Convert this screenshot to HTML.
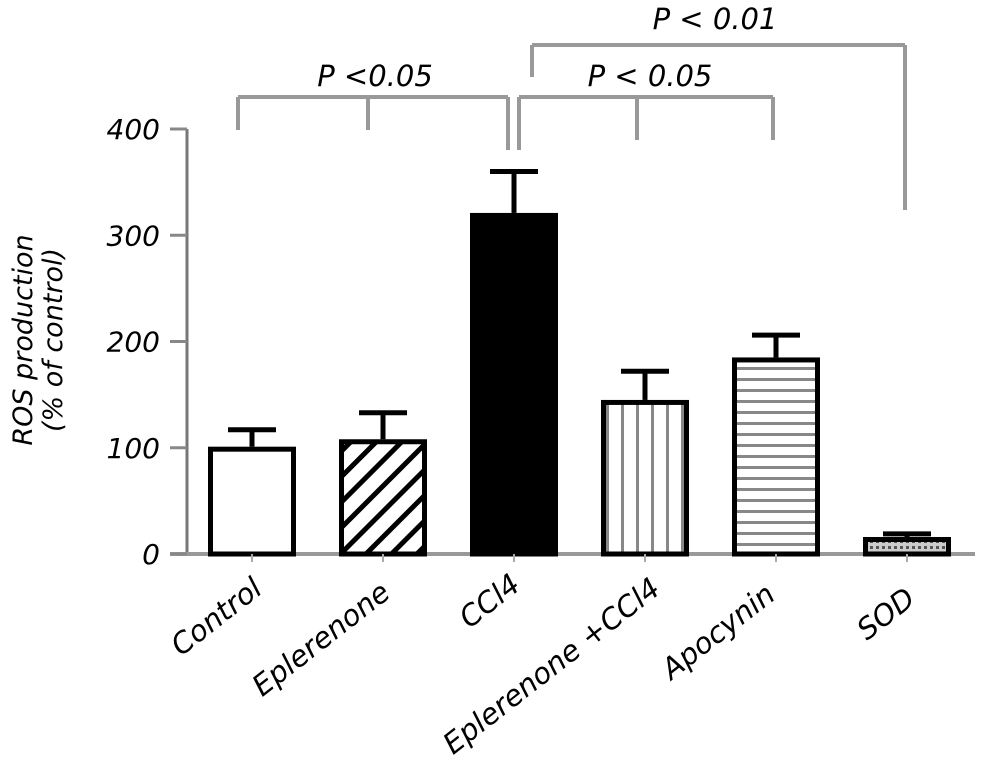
<!DOCTYPE html>
<html><head><meta charset="utf-8"><style>
html,body{margin:0;padding:0;background:#fff;}
svg{display:block;}
text{font-family:"DejaVu Sans","Liberation Sans",sans-serif;font-style:italic;fill:#000;}
</style></head><body>
<svg id="chart" width="982" height="766" viewBox="0 0 982 766" xmlns="http://www.w3.org/2000/svg">
<g id="axes"></g><g id="bars"></g><g id="sig"></g>
</svg>
<script>
const categories = ["Control","Eplerenone","CCl4","Eplerenone +CCl4","Apocynin","SOD"];
const values = [101,108,321,145,185,16];
const errors = [16,25,39,27,21,3];
const yTicks = [0,100,200,300,400];
const fills = ["none","diag","solid","vert","horiz","dots"];

const NS="http://www.w3.org/2000/svg";
const y0=554, pxPerUnit=1.0625;
function yScale(v){return y0 - v*pxPerUnit;}
const x0=252, step=131, barW=88;
function xScale(i){return x0 + i*step;}
function mk(tag,attrs,parent){const e=document.createElementNS(NS,tag);for(const k in attrs)e.setAttribute(k,attrs[k]);parent.appendChild(e);return e;}
const svg=document.getElementById('chart');
const defs=mk('defs',{},svg);
let p=mk('pattern',{id:'diag',width:18,height:18,patternUnits:'userSpaceOnUse',patternTransform:'rotate(45)'},defs);
mk('rect',{x:0,y:0,width:18,height:18,fill:'#fff'},p);mk('rect',{x:0,y:0,width:5,height:18,fill:'#000'},p);
p=mk('pattern',{id:'vert',width:15,height:10,patternUnits:'userSpaceOnUse'},defs);
mk('rect',{x:0,y:0,width:15,height:10,fill:'#fff'},p);mk('rect',{x:6,y:0,width:3,height:10,fill:'#888'},p);
p=mk('pattern',{id:'horiz',width:10,height:11,patternUnits:'userSpaceOnUse'},defs);
mk('rect',{x:0,y:0,width:10,height:11,fill:'#fff'},p);mk('rect',{x:0,y:4,width:10,height:3,fill:'#888'},p);
p=mk('pattern',{id:'dots',width:6,height:6,patternUnits:'userSpaceOnUse'},defs);
mk('rect',{x:0,y:0,width:6,height:6,fill:'#ccc'},p);mk('rect',{x:0,y:0,width:3,height:3,fill:'#555'},p);

const axes=document.getElementById('axes');
let e=mk('line',{x1:187,y1:yScale(400),x2:187,y2:y0,stroke:'#777','stroke-width':3},axes);

e=mk('line',{x1:170,y1:y0,x2:975,y2:y0,stroke:'#999','stroke-width':4},axes);

yTicks.forEach(t=>{
  const l=mk('line',{x1:170,y1:yScale(t),x2:187,y2:yScale(t),stroke:'#888','stroke-width':3},axes);
  
  const tx=mk('text',{x:160,y:yScale(t)+10,'text-anchor':'end','font-size':28},axes);
  tx.textContent=t;
  
});
e=mk('text',{transform:'translate(32,340) rotate(-90)','text-anchor':'middle','font-size':27},axes);
e.textContent='ROS production';

e=mk('text',{transform:'translate(62,340) rotate(-90)','text-anchor':'middle','font-size':27},axes);
e.textContent='(% of control)';


const labelEnds=[[264,592],[392,596],[522,588],[662,592],[777,598],[917,602]];
const bars=document.getElementById('bars');
categories.forEach((c,i)=>{
  const cx=xScale(i), top=yScale(values[i]);
  const f=fills[i]==='none'?'#fff':fills[i]==='solid'?'#000':'url(#'+fills[i]+')';
  const r=mk('rect',{x:cx-barW/2+2.5,y:top+2.5,width:barW-5,height:y0-top-2.5,fill:f,stroke:'#000','stroke-width':5},bars);
  
  
  const et=yScale(values[i]+errors[i]);
  const eb=mk('line',{x1:cx,y1:top,x2:cx,y2:et,stroke:'#000','stroke-width':5},bars);
  
  const ec=mk('line',{x1:cx-24,y1:et,x2:cx+24,y2:et,stroke:'#000','stroke-width':5},bars);
  
  const tk=mk('line',{x1:cx,y1:y0,x2:cx,y2:y0+8,stroke:'#aaa','stroke-width':2},bars);
  
  const [lx,ly]=labelEnds[i];
  const t=mk('text',{transform:`translate(${lx},${ly}) rotate(-38)`,'text-anchor':'end','font-size':29},bars);
  t.textContent=c;
  
});

const sig=document.getElementById('sig');
function bracket(name,yTop,drops,label,lx,ly){
  const g=mk('g',{},sig);
  
  mk('line',{x1:drops[0][0],y1:yTop,x2:drops[drops.length-1][0],y2:yTop,stroke:'#999','stroke-width':4},g);
  drops.forEach(d=>mk('line',{x1:d[0],y1:yTop,x2:d[0],y2:d[1],stroke:'#999','stroke-width':4},g));
  const t=mk('text',{x:lx,y:ly,'text-anchor':'middle','font-size':29},g);
  t.textContent=label;
}
bracket('significance-bracket-1',97,[[238,130],[368,130],[508,150]],'P <0.05',375,86);
bracket('significance-bracket-2',97,[[519,150],[637,140],[773,140]],'P < 0.05',650,86);
bracket('significance-bracket-3',45,[[532,77],[905,210]],'P < 0.01',715,29);
</script>
</body></html>
